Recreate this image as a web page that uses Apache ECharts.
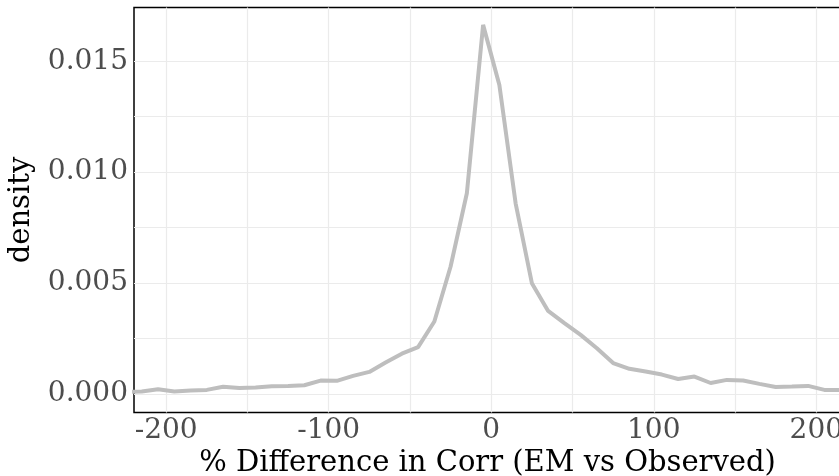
<!DOCTYPE html>
<html>
<head>
<meta charset="utf-8">
<script src="https://cdn.jsdelivr.net/npm/echarts@6/dist/echarts.min.js"></script>
<style>html,body{margin:0;padding:0;background:#fff}#c{width:839px;height:476px}</style>
</head>
<body>
<div id="c"></div>
<script>
var xValues = [-225,-215,-205,-195,-185,-175,-165,-155,-145,-135,-125,-115,-105,-95,-85,-75,-65,-55,-45,-35,-25,-15,-5,5,15,25,35,45,55,65,75,85,95,105,115,125,135,145,155,165,175,185,195,205,215,225];
var densityValues = [0.0001,0.00012,0.00022,0.00012,0.00016,0.00019,0.00033,0.00028,0.0003,0.00035,0.00037,0.0004,0.00061,0.0006,0.00082,0.001,0.00142,0.00182,0.00212,0.00327,0.00575,0.00905,0.01664,0.01393,0.0086,0.005,0.00375,0.0032,0.00267,0.00207,0.0014,0.00114,0.00102,0.00088,0.00068,0.00079,0.0005,0.00064,0.00061,0.00046,0.00032,0.00034,0.00037,0.00019,0.00019,0.00019];
var xTickLabels = [-200, -100, 0, 100, 200];
var xGridValues = [-200, -150, -100, -50, 0, 50, 100, 150, 200];
var yTickLabels = [0, 0.005, 0.010, 0.015];
var yGridValues = [0, 0.0025, 0.005, 0.0075, 0.010, 0.0125, 0.015];

var chart = echarts.init(document.getElementById('c'));
var font = 'DejaVu Serif';
chart.setOption({
  animation: false,
  grid: {left: 134, right: -2, top: 7.5, bottom: 63.5, show: true, borderColor: '#000', borderWidth: 1.5, containLabel: false, outerBoundsMode: 'none'},
  xAxis: {
    type: 'value', min: -219.8, max: 215.2,
    name: '% Difference in Corr (EM vs Observed)', nameLocation: 'middle', nameGap: 34,
    nameTextStyle: {fontFamily: font, fontSize: 29, color: '#000'},
    axisLine: {show: false},
    axisTick: {show: false, customValues: xGridValues},
    axisLabel: {fontFamily: font, fontSize: 28, color: '#4d4d4d', margin: 4, customValues: xTickLabels,
      formatter: function(v){ return String(Math.round(v)); }},
    splitLine: {show: true, lineStyle: {color: '#ebebeb', width: 1.2}}
  },
  yAxis: {
    type: 'value', min: -0.000829, max: 0.017423,
    name: 'density', nameLocation: 'middle', nameGap: 98, nameRotate: 90,
    nameTextStyle: {fontFamily: font, fontSize: 29, color: '#000'},
    axisLine: {show: false},
    axisTick: {show: false, customValues: yGridValues},
    axisLabel: {fontFamily: font, fontSize: 28, color: '#4d4d4d', margin: 6, customValues: yTickLabels,
      formatter: function(v){ return v.toFixed(3); }},
    splitLine: {show: true, lineStyle: {color: '#ebebeb', width: 1.2}}
  },
  series: [{
    type: 'line', data: xValues.map(function(x, i){ return [x, densityValues[i]]; }),
    showSymbol: false, clip: true,
    lineStyle: {color: '#bebebe', width: 4}
  }]
});
</script>
</body>
</html>
